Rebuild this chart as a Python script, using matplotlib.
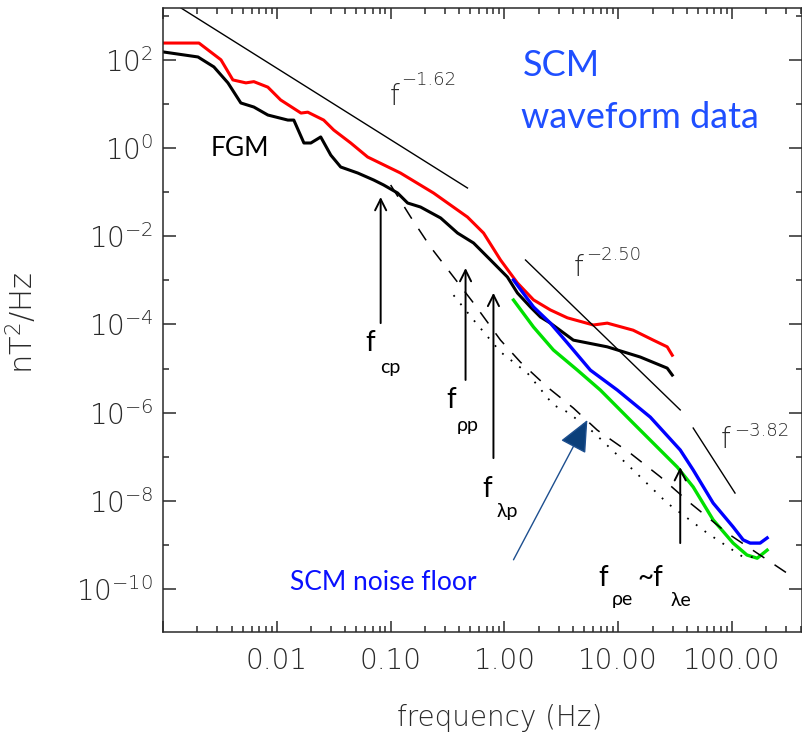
import numpy as np
import matplotlib
matplotlib.use('Agg')
import matplotlib.pyplot as plt
from matplotlib.ticker import FixedLocator, FixedFormatter, NullFormatter

plt.rcParams['font.family'] = ['DejaVu Sans']
plt.rcParams['mathtext.fontset'] = 'custom'
plt.rcParams['mathtext.rm'] = 'DejaVu Sans:weight=200'
plt.rcParams['mathtext.it'] = 'DejaVu Sans:weight=200'
plt.rcParams['mathtext.bf'] = 'DejaVu Sans'

# ---- spectra (Hz, nT^2/Hz) ----
red_f = [0.00102, 0.00207, 0.00323, 0.00411, 0.00535, 0.00628, 0.00834, 0.0108, 0.0163,
         0.0187, 0.0258, 0.0316, 0.0446, 0.0628, 0.122, 0.238, 0.473, 0.655, 0.923, 1.30,
         1.80, 2.53, 3.57, 6.04, 8.0, 13.5, 20.3, 26.9, 29.8]
red_psd = [240, 240, 100, 35, 30, 32, 24, 12.3, 6.2, 6.5, 4.3, 2.56, 1.30, 0.625, 0.271,
           0.0955, 0.0272, 0.0118, 0.00289, 8.7e-4, 3.6e-4, 2.13e-4, 1.41e-4, 9.7e-5,
           1.07e-4, 7.4e-5, 4.4e-5, 3.1e-5, 2.0e-5]

fgm_f = [0.00102, 0.00203, 0.0028, 0.00372, 0.00483, 0.00628, 0.00834, 0.0125, 0.0141,
         0.0173, 0.0199, 0.0243, 0.0298, 0.0364, 0.0514, 0.071, 0.0868, 0.115, 0.141,
         0.183, 0.275, 0.387, 0.535, 0.754, 1.06, 1.30, 1.69, 2.07, 2.53, 4.03, 8.0,
         15.6, 26.9, 29.8]
fgm_psd = [150, 116, 69, 30, 10.5, 8.5, 5.6, 4.3, 4.3, 1.30, 1.30, 1.78, 0.69, 0.371,
           0.271, 0.188, 0.145, 0.0955, 0.0566, 0.0459, 0.0259, 0.0118, 0.00702, 0.00289,
           1.19e-3, 5.15e-4, 2.48e-4, 1.47e-4, 1.07e-4, 4.4e-5, 3.1e-5, 1.82e-5, 1.02e-5,
           7.1e-6]

blue_f = [1.20, 1.80, 2.53, 3.57, 5.68, 9.8, 19.1, 35.0, 45.5, 68.1, 102, 125, 144, 176, 203]
blue_psd = [1.02e-3, 2.48e-4, 1.07e-4, 3.8e-5, 9.2e-6, 3.25e-6, 7.9e-7, 1.42e-7, 5.0e-8,
            8.9e-9, 2.56e-9, 1.30e-9, 1.10e-9, 1.10e-9, 1.44e-9]

green_f = [1.20, 1.80, 2.69, 4.37, 6.95, 13.5, 33.0, 45.5, 68.1, 102, 135, 166, 203]
green_psd = [3.57e-4, 8.7e-5, 2.63e-5, 9.2e-6, 3.25e-6, 5.8e-7, 5.8e-8, 2.06e-8, 3.7e-9,
             1.10e-9, 5.9e-10, 5.0e-10, 7.6e-10]

dash_f = [0.1, 0.150, 0.224, 0.357, 0.535, 0.923, 1.38, 2.38, 4.03, 6.54, 12.7, 23.4,
          42.8, 90.4, 303]
dash_psd = [0.145, 0.0272, 5.7e-3, 1.19e-3, 3.05e-4, 4.4e-5, 1.40e-5, 3.8e-6, 1.27e-6,
            4.0e-7, 1.21e-7, 3.5e-8, 8.9e-9, 1.86e-9, 2.3e-10]

dot_f = [0.357, 0.535, 0.923, 1.59, 2.69, 3.57, 6.04, 13.5, 26.9, 60.4, 125, 176]
dot_psd = [4.6e-4, 1.26e-4, 2.37e-5, 7.9e-6, 1.49e-6, 1.03e-6, 3.6e-7, 5.0e-8, 8.9e-9,
           1.86e-9, 5.3e-10, 5.3e-10]

# power-law guide lines: end points
fit1_f, fit1_psd = [0.00144, 0.473], [1496, 0.124]
fit2_f, fit2_psd = [1.53, 35.0], [2.89e-3, 1.15e-6]
fit3_f, fit3_psd = [45.5, 106], [4.47e-7, 1.5e-8]
fit_labels = ['\u22121.62', '\u22122.50', '\u22123.82']

# characteristic frequency arrows: (freq, tail psd, tip psd)
arrow_f = [0.0817, 0.455, 0.80, 35.0]
arrow_tail = [1.07e-4, 5.5e-6, 9.3e-8, 1.1e-9]
arrow_tip = [0.0774, 1.9e-3, 5.2e-4, 5.8e-8]

xtick_vals = [1e-3, 1e-2, 1e-1, 1e0, 1e1, 1e2]
xtick_labels = ['', '0.01', '0.10', '1.00', '10.00', '100.00']
ytick_major = [10.0 ** k for k in range(-10, 3, 2)]
ytick_minor = [10.0 ** k for k in range(-11, 4, 2)]

W, H = 803, 742
fig = plt.figure(figsize=(W / 100, H / 100), dpi=100)
ax = fig.add_axes([163 / W, 1 - 632 / H, (802 - 163) / W, (632 - 8) / H])


def fx(x, y):
    return x / W, 1 - y / H


tc = '#2a2a2a'
lw8 = 200
ax.set_xscale('log')
ax.set_yscale('log')
ax.set_xlim(0.001, 411)
ax.set_ylim(1.06e-11, 1496)

ax.plot(red_f, red_psd, color='#ff0000', lw=2.2)
ax.plot(fgm_f, fgm_psd, color='black', lw=2.2)
ax.plot(blue_f, blue_psd, color='#0000ff', lw=2.4)
ax.plot(green_f, green_psd, color='#00e000', lw=2.4)
ax.plot(dash_f, dash_psd, color='black', lw=1.1, ls=(0, (9, 8)))
ax.plot(dot_f, dot_psd, color='black', lw=1.3, ls=(0, (1, 5)))
for ff, pp in [(fit1_f, fit1_psd), (fit2_f, fit2_psd), (fit3_f, fit3_psd)]:
    ax.plot(ff, pp, color='black', lw=1.0)

for f0, a, b in zip(arrow_f, arrow_tail, arrow_tip):
    ax.annotate('', xy=(f0, b), xytext=(f0, a),
                arrowprops=dict(arrowstyle='->,head_length=0.8,head_width=0.4',
                                color='black', lw=1.4, shrinkA=0, shrinkB=0))

# SCM noise floor arrow
ax.annotate('', xy=(5.35, 6.8e-7), xytext=(1.2, 4.6e-10),
            arrowprops=dict(arrowstyle='-|>,head_length=2.0,head_width=0.9',
                            color='#1d4f8f', fc='#0b3f7a', lw=1.0, shrinkA=0, shrinkB=0))

# ticks
ax.xaxis.set_major_locator(FixedLocator(xtick_vals))
ax.xaxis.set_major_formatter(FixedFormatter(xtick_labels))
ax.xaxis.set_minor_locator(FixedLocator(
    [m * 10.0 ** k for k in range(-3, 3) for m in range(2, 10)]))
ax.xaxis.set_minor_formatter(NullFormatter())
ax.yaxis.set_major_locator(FixedLocator(ytick_major))
ax.yaxis.set_major_formatter(FixedFormatter(
    [r'$\mathregular{10^{%d}}$' % k for k in range(-10, 3, 2)]))
ax.yaxis.set_minor_locator(FixedLocator(ytick_minor))
ax.yaxis.set_minor_formatter(NullFormatter())

ax.tick_params(which='both', direction='in', top=True, right=True, colors=tc,
               width=1.1)
ax.tick_params(axis='x', which='major', length=8, pad=11, labelsize=20)
ax.tick_params(axis='x', which='minor', length=4)
ax.tick_params(axis='y', which='major', length=9.5, pad=7, labelsize=20)
ax.tick_params(axis='y', which='minor', length=4.5)
for lab in ax.get_xticklabels() + ax.get_yticklabels():
    lab.set_fontweight(lw8)
for s in ax.spines.values():
    s.set_color(tc)
    s.set_linewidth(1.1)

fig.text(*fx(500, 718), 'frequency (Hz)', fontsize=20, fontweight=lw8, color=tc,
         ha='center', va='center')
fig.text(*fx(22, 323), r'nT$^\mathregular{2}$/Hz', fontsize=22, fontweight=lw8,
         color=tc, ha='center', va='center', rotation=90)

# in-plot labels
fig.text(*fx(240, 148), 'FGM', fontsize=19, color='black', ha='center', va='center',
         family='Lato')
fig.text(*fx(523, 65), 'SCM', fontsize=26, color='#1f4fff', ha='left', va='center',
         family='Lato')
fig.text(*fx(521, 118), 'waveform data', fontsize=26, color='#1f4fff', ha='left',
         va='center', family='Lato')
fig.text(*fx(383, 583), 'SCM noise floor', fontsize=19, color='#0a10ff', ha='center',
         va='center', family='Lato')

for (x0, y0), (x1, y1), e in zip([(395, 97), (579, 268), (726, 440)],
                                 [(401, 80), (586, 255), (734, 431)], fit_labels):
    fig.text(*fx(x0, y0), 'f', fontsize=20, fontweight=lw8, color=tc,
             ha='center', va='center')
    fig.text(*fx(x1, y1), e, fontsize=13, fontweight=lw8, color=tc,
             ha='left', va='center')

sub_text = [('f', 370, 343, 20), ('cp', 390, 367, 14),
            ('f', 451, 400, 20), ('\u03c1p', 468, 425, 14),
            ('f', 487, 489, 20), ('\u03bbp', 507, 512, 14),
            ('f', 603, 578, 20), ('\u03c1e', 622, 600, 14),
            ('~f', 650, 578, 20), ('\u03bbe', 681, 600, 14)]
for s, x, y, fs in sub_text:
    fig.text(*fx(x, y), s, fontsize=fs, color='black', ha='center', va='center',
             family='Lato')

fig.savefig('out.png', dpi=100)
